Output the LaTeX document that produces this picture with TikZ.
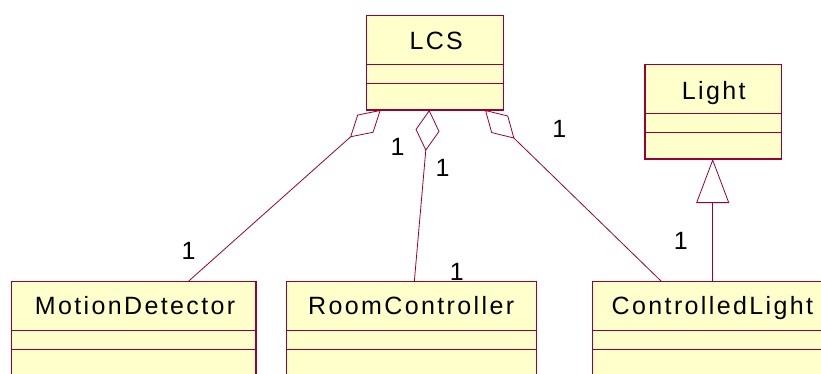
\documentclass[tikz,border=0pt]{standalone}
\usepackage{fontspec}
\setmainfont{Liberation Sans}
\usetikzlibrary{arrows.meta}
\definecolor{umlline}{RGB}{153,0,51}
\definecolor{umlfill}{RGB}{255,255,204}
\begin{document}
\begin{tikzpicture}[x=1pt,y=-1pt,
  classbox/.style={draw=umlline, fill=umlfill, line width=1.1pt, inner sep=0pt, outer sep=0pt, anchor=north west},
  cname/.style={anchor=base, inner sep=0pt, font=\fontsize{25}{30}\selectfont\addfontfeature{LetterSpace=9.5}},
  mult/.style={inner sep=0pt, font=\fontsize{25}{30}\selectfont},
  divider/.style={draw=umlline, line width=1.1pt},
  agg/.style={draw=umlline, line width=0.8pt, {Diamond[open, length=41pt, width=24pt]}-},
  gen/.style={draw=umlline, line width=0.8pt, -{Triangle[open, length=44pt, width=33pt]}}
]
\clip (0,0) rectangle (821,374);

% class boxes
\node[classbox, minimum width=136.6pt, minimum height=94.7pt] (lcs) at (366.7,15.3) {};
\node[classbox, minimum width=136.7pt, minimum height=94.3pt] (light) at (645,64.7) {};
\node[classbox, minimum width=244.3pt, minimum height=94.5pt] (md) at (11.7,281.7) {};
\node[classbox, minimum width=250pt, minimum height=94.5pt] (rc) at (286.7,281.7) {};
\node[classbox, minimum width=236.6pt, minimum height=94.5pt] (cl) at (592.7,281.7) {};

% compartments
\foreach \b in {lcs,light,md,rc,cl}{
  \draw[divider] ([yshift=-49pt]\b.north west) -- ([yshift=-49pt]\b.north east);
  \draw[divider] ([yshift=-68pt]\b.north west) -- ([yshift=-68pt]\b.north east);
}

% class names
\node[cname] (lcsname) at (436.2,50) {LCS};
\node[cname] (lightname) at (713.7,99.3) {Light};
\node[cname] (mdname) at (135,314.3) {MotionDetector};
\node[cname] (rcname) at (411.2,314.3) {RoomController};
\node[cname] (clname) at (712.4,314.3) {ControlledLight};

% aggregations
\draw[agg] ([xshift=14pt]lcs.south west) -- ([xshift=176.3pt]md.north west);
\draw[agg] ([xshift=62.6pt]lcs.south west) -- ([xshift=127.6pt]rc.north west);
\draw[agg] ([xshift=118.3pt]lcs.south west) -- ([xshift=69pt]cl.north west);

% generalization
\draw[gen] ([xshift=120pt]cl.north west) -- ([xshift=67.7pt]light.south west);

% multiplicities
\node[mult] (m1) at (397.6,147) {1};
\node[mult] (m2) at (442.6,168.3) {1};
\node[mult] (m3) at (559.4,129) {1};
\node[mult] (m4) at (188.6,251) {1};
\node[mult] (m5) at (456.7,272) {1};
\node[mult] (m6) at (680.9,241) {1};
\end{tikzpicture}
\end{document}
